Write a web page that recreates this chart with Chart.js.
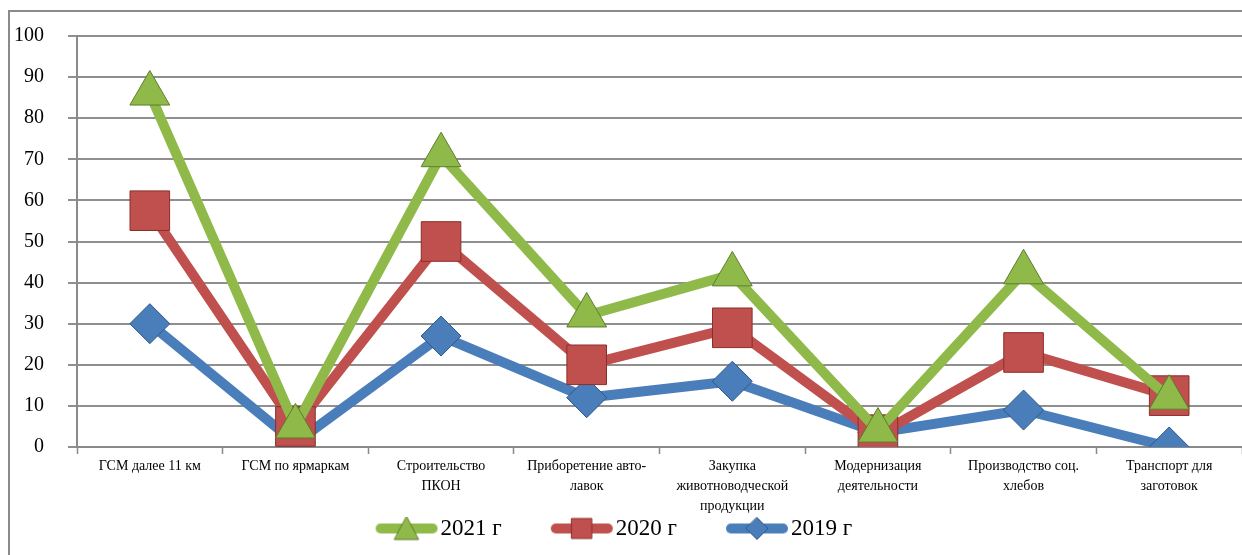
<!DOCTYPE html>
<html>
<head>
<meta charset="utf-8">
<script src="https://cdn.jsdelivr.net/npm/chart.js@4/dist/chart.umd.min.js"></script>
<style>
	html, body { margin: 0; padding: 0; background: #fff; }
	#wrap { position: relative; width: 1242px; height: 555px; overflow: hidden; }
	#frame { position: absolute; left: 8px; top: 10px; width: 1300px; height: 600px;
		border-left: 2px solid #8a8a8a; border-top: 2px solid #8a8a8a; }
	canvas { position: absolute; left: 0; top: 0; }
</style>
</head>
<body>
<div id="wrap">
	<div id="frame"></div>
	<canvas id="chart" width="1242" height="555"></canvas>
</div>
<script>
var categories = [
	'ГСМ далее 11 км',
	'ГСМ по ярмаркам',
	['Строительство', 'ПКОН'],
	['Приборетение авто-', 'лавок'],
	['Закупка', 'животноводческой', 'продукции'],
	['Модернизация', 'деятельности'],
	['Производство соц.', 'хлебов'],
	['Транспорт для', 'заготовок']
];
var values2021 = [86, 5, 71, 32, 42, 4, 42.5, 12];
var values2020 = [57.5, 5, 50, 20, 29, 3, 23, 12.5];
var values2019 = [30, 1, 27, 12, 16, 3.5, 9, 0];
var yTicks = [0, 10, 20, 30, 40, 50, 60, 70, 80, 90, 100];

var serif = "'Liberation Serif', 'Times New Roman', serif";
var gap = '\u00a0\u00a0\u00a0\u00a0\u00a0\u00a0\u00a0\u00a0\u00a0\u00a0';
var tail = '\u00a0';

// small picture of line + marker for the legend
function legendIcon(color, edge, style) {
	var c = document.createElement('canvas');
	c.width = 64; c.height = 28;
	var g = c.getContext('2d');
	g.strokeStyle = color;
	g.lineWidth = 10;
	g.lineCap = 'round';
	g.beginPath(); g.moveTo(6, 14); g.lineTo(58, 14); g.stroke();
	g.fillStyle = color;
	g.strokeStyle = edge;
	g.lineWidth = 1;
	g.beginPath();
	if (style == 'triangle') {
		g.moveTo(32, 2); g.lineTo(44, 25); g.lineTo(20, 25); g.closePath();
	} else if (style == 'rect') {
		g.rect(22, 4, 20, 20);
	} else {
		g.moveTo(32, 3); g.lineTo(43, 14); g.lineTo(32, 25); g.lineTo(21, 14); g.closePath();
	}
	g.fill(); g.stroke();
	return c;
}

var series = [
	{label: '2021 г', data: values2021, color: '#8fba4a', edge: '#5d7d2c', style: 'triangle', radius: 23},
	{label: '2020 г', data: values2020, color: '#c0504d', edge: '#8a2e2b', style: 'rect', radius: 28},
	{label: '2019 г', data: values2019, color: '#4a7ebb', edge: '#2d5789', style: 'rectRot', radius: 20}
];

var datasets = series.map(function(s) {
	return {
		label: s.label,
		data: s.data,
		borderColor: s.color,
		backgroundColor: s.color,
		borderWidth: 10,
		borderJoinStyle: 'round',
		tension: 0,
		pointStyle: s.style,
		pointRadius: s.radius,
		pointHoverRadius: s.radius,
		pointBackgroundColor: s.color,
		pointBorderColor: s.edge,
		pointBorderWidth: 1,
		icon: legendIcon(s.color, s.edge, s.style)
	};
});

new Chart(document.getElementById('chart'), {
	type: 'line',
	data: {labels: categories, datasets: datasets},
	options: {
		responsive: false,
		animation: false,
		layout: {autoPadding: false, padding: {left: 0, top: 35, right: 0, bottom: 5}},
		plugins: {
			tooltip: {enabled: false},
			legend: {
				position: 'bottom',
				labels: {
					usePointStyle: true,
					pointStyleWidth: 45,
					padding: 0,
					color: '#000',
					font: {family: serif, size: 23},
					generateLabels: function(chart) {
						var n = chart.data.datasets.length;
						return chart.data.datasets.map(function(ds, i) {
							return {
								text: ds.label + (i < n - 1 ? gap : tail),
								pointStyle: ds.icon,
								fillStyle: ds.borderColor,
								strokeStyle: ds.borderColor,
								lineWidth: 0,
								datasetIndex: i,
								hidden: false
							};
						});
					}
				}
			}
		},
		scales: {
			x: {
				offset: true,
				afterFit: function(s) {
					s.paddingLeft = 0;
					s.paddingRight = 0;
					s.height = 70;
				},
				grid: {
					offset: true,
					drawOnChartArea: false,
					drawTicks: true,
					tickLength: 7,
					tickColor: '#8a8a8a',
					tickWidth: 1.5
				},
				border: {color: '#8a8a8a', width: 2},
				ticks: {
					autoSkip: false,
					maxRotation: 0,
					minRotation: 0,
					padding: 2,
					color: '#000',
					font: {family: serif, size: 14, lineHeight: 1.43}
				}
			},
			y: {
				min: 0,
				max: 100,
				afterBuildTicks: function(axis) {
					axis.ticks = yTicks.map(function(v) { return {value: v}; });
				},
				afterFit: function(s) {
					s.width = 77;
				},
				grid: {
					color: '#8f8f8f',
					lineWidth: 2,
					tickLength: 9,
					tickColor: '#8f8f8f'
				},
				border: {color: '#8a8a8a', width: 2},
				ticks: {
					padding: 24,
					color: '#000',
					font: {family: serif, size: 20}
				}
			}
		}
	}
});
</script>
</body>
</html>
